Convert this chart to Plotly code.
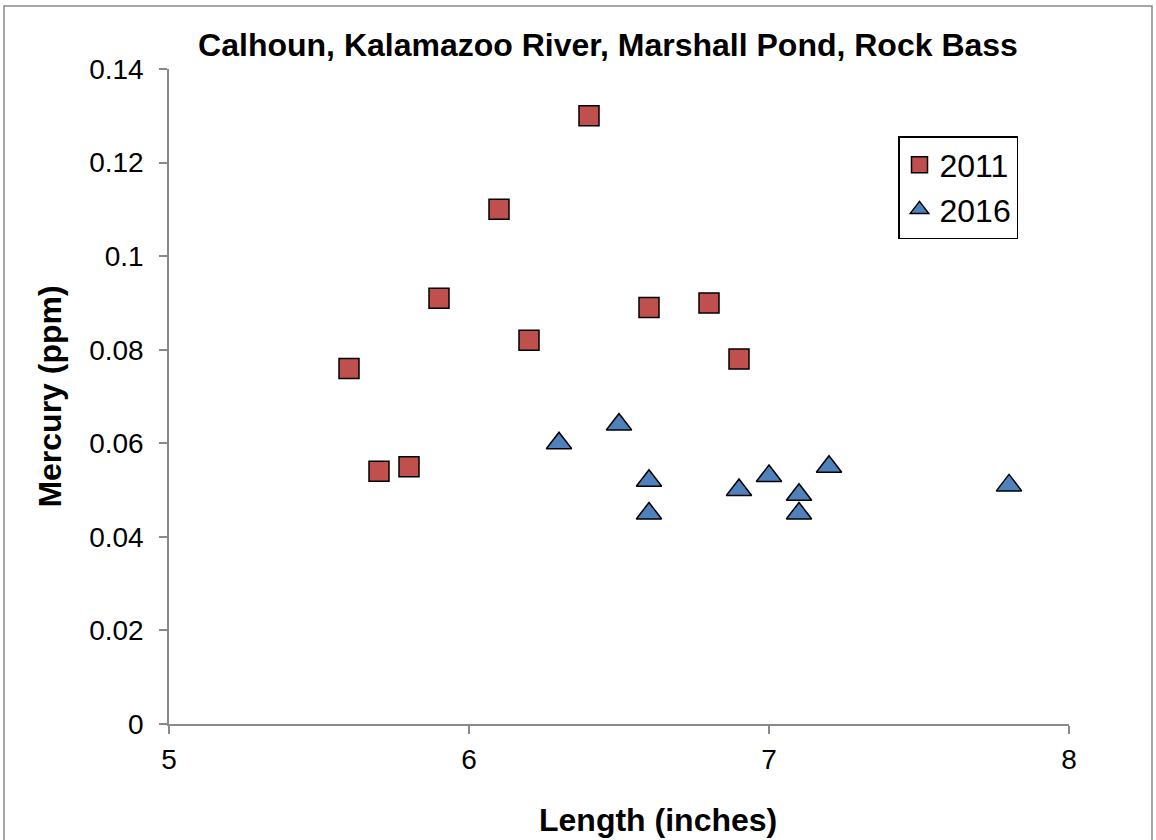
import plotly.graph_objects as go

x_2011 = [5.6, 5.7, 5.8, 5.9, 6.1, 6.2, 6.4, 6.6, 6.8, 6.9]
y_2011 = [0.076, 0.054, 0.055, 0.091, 0.110, 0.082, 0.130, 0.089, 0.090, 0.078]
x_2016 = [6.3, 6.5, 6.6, 6.6, 6.9, 7.0, 7.1, 7.1, 7.2, 7.8]
y_2016 = [0.060, 0.064, 0.052, 0.045, 0.050, 0.053, 0.049, 0.045, 0.055, 0.051]

FONT = "Arial, Liberation Sans, sans-serif"
W, H = 1156, 840
L, R, T, B = 169, 87, 69, 116
pw, ph = W - L - R, H - T - B

def px_x(p):
    return (p - L) / pw

def px_y(p):
    return (H - B - p) / ph

fig = go.Figure()
fig.add_trace(go.Scatter(
    x=x_2011, y=y_2011, mode="markers", name="2011",
    marker=dict(symbol="square", size=20, color="#C0504D",
                line=dict(color="black", width=1.5))))
fig.add_trace(go.Scatter(
    x=x_2016, y=y_2016, mode="markers", name="2016",
    marker=dict(symbol="triangle-up", size=22, color="#4F81BD",
                line=dict(color="black", width=1.5))))

fig.update_layout(
    width=W, height=H,
    margin=dict(l=L, r=R, t=T, b=B, autoexpand=False),
    paper_bgcolor="white", plot_bgcolor="white",
    font=dict(family=FONT, size=28, color="black"),
    title=dict(text="<b>Calhoun, Kalamazoo River, Marshall Pond, Rock Bass</b>",
               x=px_x(608), xref="paper", xanchor="center",
               y=1 - 45 / H, yanchor="middle",
               font=dict(size=32, family=FONT)),
    showlegend=True,
    legend=dict(x=px_x(898), y=px_y(136), xanchor="left", yanchor="top",
                bgcolor="white", bordercolor="black", borderwidth=1.5,
                font=dict(size=32, family=FONT), itemsizing="trace",
                tracegroupgap=16, itemwidth=30),
    xaxis=dict(range=[5, 8], tickvals=[5, 6, 7, 8], showgrid=False,
               zeroline=False, showline=True, linecolor="#898989", linewidth=1.5,
               ticks="outside", ticklen=8, tickcolor="#898989", tickwidth=1.5,
               tickfont=dict(size=28), ticklabelstandoff=2, automargin=False),
    yaxis=dict(range=[0, 0.14], tickvals=[0, 0.02, 0.04, 0.06, 0.08, 0.1, 0.12, 0.14],
               ticktext=["0", "0.02", "0.04", "0.06", "0.08", "0.1", "0.12", "0.14"],
               showgrid=False, zeroline=False, showline=True, linecolor="#898989",
               linewidth=1.5, ticks="outside", ticklen=8, tickcolor="#898989",
               tickwidth=1.5, tickfont=dict(size=28), ticklabelstandoff=10,
               automargin=False,
               title=dict(text="<b>Mercury (ppm)</b>", font=dict(size=32), standoff=18)),
)

fig.add_annotation(text="<b>Length (inches)</b>", xref="paper", yref="paper",
                   x=px_x(658), y=px_y(820), xanchor="center", yanchor="middle",
                   showarrow=False, font=dict(size=32, family=FONT))

fig.add_shape(type="rect", xref="paper", yref="paper",
              x0=px_x(4), x1=px_x(1152), y0=px_y(6), y1=px_y(860),
              line=dict(color="#898989", width=1.5), fillcolor="rgba(0,0,0,0)",
              layer="below")

fig.write_html("out.html", config={"displayModeBar": False},
               post_script="document.body.style.margin='0';")
